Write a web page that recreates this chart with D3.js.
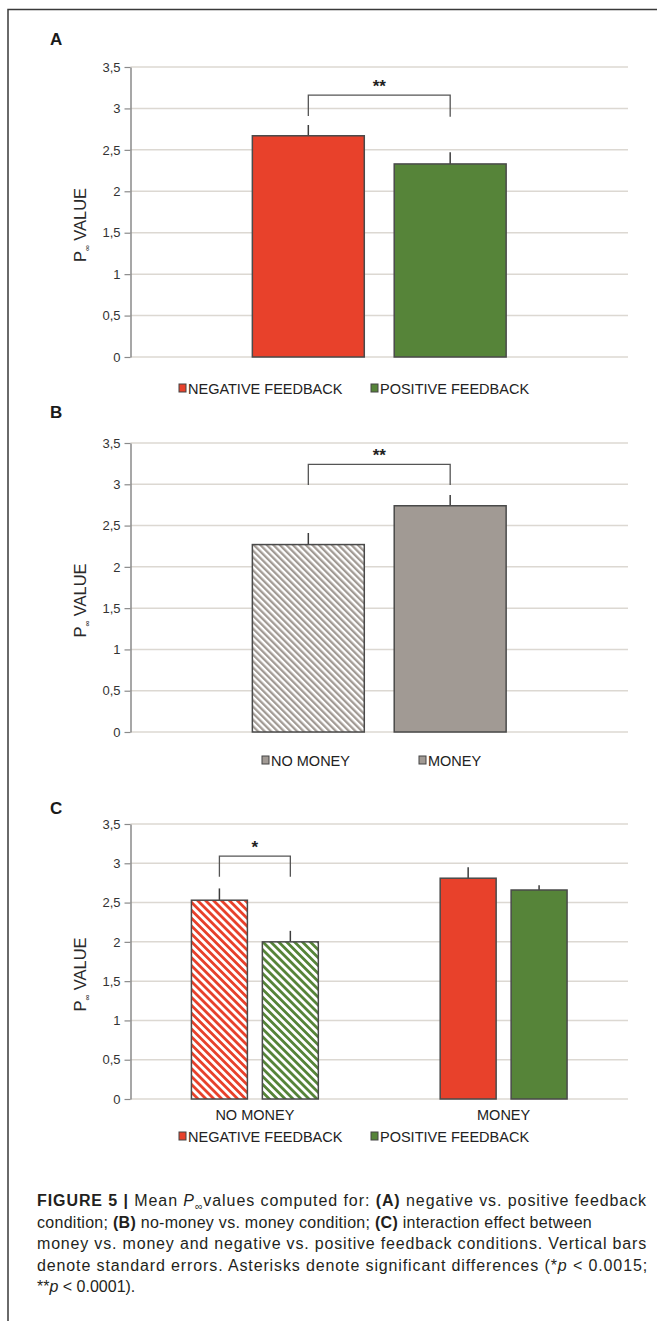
<!DOCTYPE html>
<html>
<head>
<meta charset="utf-8">
<script src="https://cdn.jsdelivr.net/npm/d3@7"></script>
<style>
  body { margin: 0; background: #fff; }
  svg { display: block; font-family: "Liberation Sans", Arial, sans-serif; }
</style>
</head>
<body>
<svg id="fig"></svg>
<script>
// ---- data ----
const yTickValues = [0, 0.5, 1, 1.5, 2, 2.5, 3, 3.5];

// panel A: feedback condition
const feedbackLabels = ['NEGATIVE FEEDBACK', 'POSITIVE FEEDBACK'];
const feedbackMeans = [2.67, 2.33];
const feedbackErrors = [0.13, 0.14];

// panel B: money condition
const moneyLabels = ['NO MONEY', 'MONEY'];
const moneyMeans = [2.27, 2.74];
const moneyErrors = [0.14, 0.13];

// panel C: interaction
const interactionGroups = ['NO MONEY', 'MONEY'];
const negativeMeans = [2.53, 2.81];
const negativeErrors = [0.15, 0.14];
const positiveMeans = [2.00, 2.66];
const positiveErrors = [0.14, 0.06];

// significance brackets: [top value, left leg end, right leg end]
const bracketA = [3.16, 2.91, 2.90];
const bracketB = [3.24, 2.99, 2.99];
const bracketC = [3.09, 2.83, 2.83];
const starsA = '**', starsB = '**', starsC = '*';

const captionLines = [
    [{t: 'FIGURE 5 | ', b: 1}, {t: 'Mean '}, {t: 'P', i: 1}, {t: '\u221e', s: 1}, {t: 'values computed for: ', up: 1}, {t: '(A)', b: 1}, {t: ' negative vs. positive feedback'}],
    [{t: 'condition; '}, {t: '(B)', b: 1}, {t: ' no-money vs. money condition; '}, {t: '(C)', b: 1}, {t: ' interaction effect between'}],
    [{t: 'money vs. money and negative vs. positive feedback conditions. Vertical bars'}],
    [{t: 'denote standard errors. Asterisks denote significant differences (*'}, {t: 'p', i: 1}, {t: ' < 0.0015;'}],
    [{t: '**'}, {t: 'p', i: 1}, {t: ' < 0.0001).'}]
];

// ---- style ----
const RED = '#e8412b', GREEN = '#568439', GREY = '#a19a94';
const width = 657, height = 1321;
const xLeft = 130.5, xRight = 628;

const svg = d3.select('#fig').attr('width', width).attr('height', height);
svg.append('rect').attr('width', width).attr('height', height).attr('fill', '#fff');

// frame (top + left rule)
svg.append('path').attr('d', `M8,${height} V9.5 H${width}`)
    .attr('fill', 'none').attr('stroke', '#3a3a3a').attr('stroke-width', 1.5);

// hatch patterns
const defs = svg.append('defs');
function hatch(id, color, gap) {
    const p = defs.append('pattern').attr('id', id)
        .attr('patternUnits', 'userSpaceOnUse')
        .attr('width', gap).attr('height', gap)
        .attr('patternTransform', 'rotate(-45)');
    p.append('rect').attr('width', gap).attr('height', gap).attr('fill', '#fff');
    p.append('rect').attr('width', gap / 2).attr('height', gap).attr('fill', color);
}
hatch('hatch-grey', GREY, 4.6);
hatch('hatch-red', RED, 5.6);
hatch('hatch-green', GREEN, 5.6);

const fmt = d3.formatLocale({decimal: ',', thousands: '.', grouping: [3], currency: ['', '']}).format('~g');

function drawPanel(cfg) {
    const g = svg.append('g');

    const y = d3.scaleLinear().domain([0, 3.5]).range([cfg.bottom, cfg.top]);
    const x0 = d3.scaleBand().domain(cfg.groups).range([xLeft, xRight]).padding(0);
    const x1 = d3.scaleBand().domain(cfg.series.map(s => s.name))
        .range([0, x0.bandwidth()]).paddingInner(0.211).paddingOuter(0.859);

    // panel letter
    g.append('text').attr('x', 50).attr('y', cfg.letterY)
        .attr('font-size', 17).attr('font-weight', 'bold').attr('fill', '#1a1a1a')
        .text(cfg.letter);

    // gridlines
    g.append('g').selectAll('line').data(yTickValues).join('line')
        .attr('x1', xLeft).attr('x2', xRight)
        .attr('y1', d => y(d)).attr('y2', d => y(d))
        .attr('stroke', '#dcd8d2').attr('stroke-width', 1.5);

    // y axis
    const yAxis = d3.axisLeft(y).tickValues(yTickValues).tickFormat(fmt)
        .tickSize(6).tickSizeOuter(0).tickPadding(4);
    const yAxisG = g.append('g').attr('transform', `translate(${xLeft},0)`).call(yAxis);
    yAxisG.select('.domain').attr('stroke', '#8a8a8a').attr('stroke-width', 1.5);
    yAxisG.selectAll('.tick line').attr('stroke', '#8a8a8a').attr('stroke-width', 1.2);
    yAxisG.selectAll('.tick text').attr('font-size', 13).attr('fill', '#333')
        .attr('font-family', '"Liberation Sans", Arial, sans-serif');

    // y title
    const title = g.append('text')
        .attr('transform', `translate(86,${(cfg.top + cfg.bottom) / 2 + 13}) rotate(-90)`)
        .attr('text-anchor', 'middle').attr('font-size', 16.5).attr('fill', '#2a2a2a');
    title.append('tspan').text('P');
    title.append('tspan').attr('font-size', 8).attr('dy', 4).text('\u221e');
    title.append('tspan').attr('dy', -4).text(' VALUE');

    // bars
    const cells = [];
    cfg.groups.forEach((grp, gi) => {
        cfg.series.forEach((s, si) => {
            cells.push({gi, si, grp, name: s.name, v: s.values[gi], e: s.errors[gi], fill: cfg.fill(si, gi)});
        });
    });
    const cx = d => x0(d.grp) + x1(d.name);

    g.append('g').selectAll('line').data(cells).join('line')
        .attr('x1', d => cx(d) + x1.bandwidth() / 2).attr('x2', d => cx(d) + x1.bandwidth() / 2)
        .attr('y1', d => y(d.v)).attr('y2', d => y(d.v + d.e))
        .attr('stroke', '#3d3d3d').attr('stroke-width', 1.5);

    g.append('g').selectAll('rect').data(cells).join('rect')
        .attr('x', cx).attr('width', x1.bandwidth())
        .attr('y', d => y(d.v)).attr('height', d => y(0) - y(d.v))
        .attr('fill', d => d.fill)
        .attr('stroke', '#4a4a4a').attr('stroke-width', 1.5);

    // significance bracket over the first group
    const bl = x0(cfg.groups[0]) + x1(cfg.series[0].name) + x1.bandwidth() / 2;
    const br = x0(cfg.groups[0]) + x1(cfg.series[1].name) + x1.bandwidth() / 2;
    const [bt, bLeft, bRight] = cfg.bracket;
    g.append('path')
        .attr('d', `M${bl},${y(bLeft)} V${y(bt)} H${br} V${y(bRight)}`)
        .attr('fill', 'none').attr('stroke', '#555').attr('stroke-width', 1.3);
    g.append('text').attr('x', (bl + br) / 2).attr('y', y(bt) - 3)
        .attr('text-anchor', 'middle').attr('font-size', 17).attr('font-weight', 'bold')
        .attr('fill', '#222').text(cfg.stars);

    // group labels (panel C)
    if (cfg.groupLabels) {
        g.append('g').selectAll('text').data(cfg.groups).join('text')
            .attr('x', d => x0(d) + x0.bandwidth() / 2).attr('y', y(0) + 21)
            .attr('text-anchor', 'middle').attr('font-size', 14.5).attr('fill', '#222')
            .text(d => d);
    }

    // legend
    const leg = g.append('g').selectAll('g').data(cfg.series).join('g')
        .attr('transform', (d, i) => `translate(${cfg.legendX[i]},${cfg.legendY})`);
    leg.append('rect').attr('x', 0).attr('y', -4).attr('width', 7).attr('height', 8)
        .attr('fill', d => d.legendFill).attr('stroke', '#444').attr('stroke-width', 1);
    leg.append('text').attr('x', 9).attr('y', 5.5)
        .attr('font-size', 14.5).attr('fill', '#222').text(d => d.name);
}

drawPanel({
    letter: 'A', letterY: 45, top: 67, bottom: 357,
    groups: [''],
    series: [
        {name: feedbackLabels[0], values: [feedbackMeans[0]], errors: [feedbackErrors[0]], legendFill: RED},
        {name: feedbackLabels[1], values: [feedbackMeans[1]], errors: [feedbackErrors[1]], legendFill: GREEN}
    ],
    fill: si => si === 0 ? RED : GREEN,
    bracket: bracketA, stars: starsA,
    legendX: [179, 371], legendY: 388
});

drawPanel({
    letter: 'B', letterY: 418, top: 443, bottom: 732,
    groups: [''],
    series: [
        {name: moneyLabels[0], values: [moneyMeans[0]], errors: [moneyErrors[0]], legendFill: GREY},
        {name: moneyLabels[1], values: [moneyMeans[1]], errors: [moneyErrors[1]], legendFill: GREY}
    ],
    fill: si => si === 0 ? 'url(#hatch-grey)' : GREY,
    bracket: bracketB, stars: starsB,
    legendX: [262, 419], legendY: 760
});

drawPanel({
    letter: 'C', letterY: 814, top: 824, bottom: 1099,
    groups: interactionGroups, groupLabels: true,
    series: [
        {name: feedbackLabels[0], values: negativeMeans, errors: negativeErrors, legendFill: RED},
        {name: feedbackLabels[1], values: positiveMeans, errors: positiveErrors, legendFill: GREEN}
    ],
    fill: (si, gi) => gi === 0 ? (si === 0 ? 'url(#hatch-red)' : 'url(#hatch-green)') : (si === 0 ? RED : GREEN),
    bracket: bracketC, stars: starsC,
    legendX: [179, 371], legendY: 1136
});

// caption: full lines are fitted to the measured widths with letter-spacing
const captionWidths = [610, 555, 610, 611, null];
const cap = svg.append('g');
captionLines.forEach((line, li) => {
    const t = cap.append('text').attr('x', 37).attr('y', 1206 + li * 21.5)
        .attr('font-size', 16).attr('fill', '#231f20');
    line.forEach(seg => {
        const ts = t.append('tspan').text(seg.t);
        if (seg.b) ts.attr('font-weight', 'bold');
        if (seg.i) ts.attr('font-style', 'italic');
        if (seg.s) ts.attr('font-size', 10.5).attr('dy', 4);
        if (seg.up) ts.attr('dy', -4);
    });
    if (captionWidths[li]) {
        const natural = t.node().getComputedTextLength();
        const nChars = line.reduce((n, s) => n + s.t.length, 0);
        t.attr('letter-spacing', (captionWidths[li] - natural) / nChars);
    }
});
</script>
</body>
</html>
